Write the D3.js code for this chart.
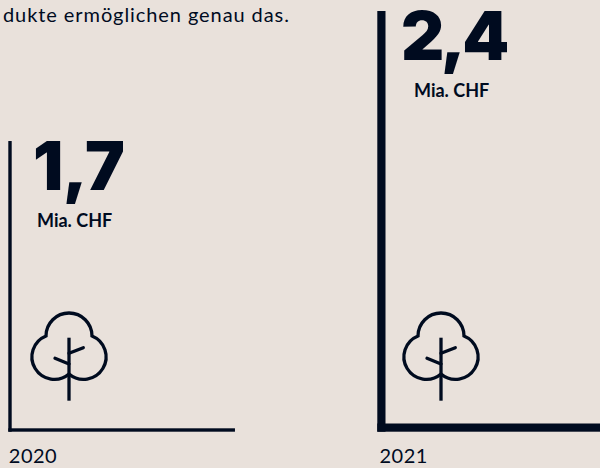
<!DOCTYPE html>
<html>
<head>
<meta charset="utf-8">
<script src="https://cdn.jsdelivr.net/npm/d3@7"></script>
<style>
  html, body { margin: 0; padding: 0; background: #e9e1db; overflow: hidden; }
  svg { display: block; }
  text { fill: #000b1f; }
</style>
</head>
<body>
<div id="chart"></div>
<script>
// values
const years = ['2020', '2021'];
const values = [1.7, 2.4];
const valueLabels = ['1,7', '2,4'];
const unit = 'Mia. CHF';
const intro = 'dukte ermöglichen genau das.';

const width = 600, height = 468;
const color = '#000b1f';
const baseline = 431.7;

const svg = d3.select('#chart').append('svg')
  .attr('width', width)
  .attr('height', height);

// position scales, one per column of things
const x = d3.scalePoint().domain(years).range([8.3, 377.3]);
const xNumber = d3.scalePoint().domain(years).range([33, 401]);
const xUnit = d3.scalePoint().domain(years).range([37, 414]);
const xYear = d3.scalePoint().domain(years).range([8.8, 379.5]);
const xTree = d3.scalePoint().domain(years).range([69, 441]);

const y = d3.scaleLinear().domain([0.135, 2.4]).range([baseline, 11]);
const w = d3.scaleLinear().domain([0, 2.4]).range([0, 320]);
const stroke = d3.scaleLinear().domain([1.7, 2.4]).range([3.4, 8.2]);
const numberSpacing = d3.scaleLinear().domain([1.7, 2.4]).range([-0.5, -3.5]);

svg.append('text')
  .attr('x', 3)
  .attr('y', 21.5)
  .attr('font-family', 'Lato')
  .attr('font-size', 20)
  .attr('letter-spacing', 0.92)
  .text(intro);

const data = years.map((year, i) => ({ year, value: values[i], label: valueLabels[i] }));

// the L shaped mark: height, width and stroke all follow the value
svg.selectAll('.stem')
  .data(data)
  .join('rect')
  .attr('class', 'stem')
  .attr('x', d => x(d.year))
  .attr('y', d => y(d.value))
  .attr('width', d => stroke(d.value))
  .attr('height', d => baseline - y(d.value))
  .attr('fill', color);

svg.selectAll('.foot')
  .data(data)
  .join('rect')
  .attr('class', 'foot')
  .attr('x', d => x(d.year))
  .attr('y', d => baseline - stroke(d.value))
  .attr('width', d => w(d.value))
  .attr('height', d => stroke(d.value))
  .attr('fill', color);

svg.selectAll('.number')
  .data(data)
  .join('text')
  .attr('class', 'number')
  .attr('x', d => xNumber(d.year))
  .attr('y', d => y(d.value) + 48.8)
  .attr('font-family', 'Inter')
  .attr('font-weight', 900)
  .attr('font-size', 67)
  .attr('letter-spacing', d => numberSpacing(d.value))
  .text(d => d.label);

svg.selectAll('.unit')
  .data(data)
  .join('text')
  .attr('class', 'unit')
  .attr('x', d => xUnit(d.year))
  .attr('y', d => y(d.value) + 86)
  .attr('font-family', 'Lato')
  .attr('font-weight', 700)
  .attr('font-size', 18)
  .text(unit);

svg.selectAll('.year')
  .data(data)
  .join('text')
  .attr('class', 'year')
  .attr('x', d => xYear(d.year))
  .attr('y', 463)
  .attr('font-family', 'Lato')
  .attr('font-size', 20)
  .attr('letter-spacing', 0.5)
  .text(d => d.year);

// tree icon
const tree = svg.selectAll('.tree')
  .data(data)
  .join('g')
  .attr('class', 'tree')
  .attr('transform', d => `translate(${xTree(d.year)},300)`)
  .attr('fill', 'none')
  .attr('stroke', color)
  .attr('stroke-width', 3.3);

tree.append('path')
  .attr('d', 'M0,74 A22.5,22.5 0 1 1 -23,36 A23,23 0 0 1 23,36 A22.5,22.5 0 1 1 0,74');
tree.append('path')
  .attr('d', 'M0,37.7 V100.7');
tree.append('path')
  .attr('stroke-linecap', 'round')
  .attr('d', 'M0,53.3 L14.3,47.7 M0,64 L-14,58.3');
</script>
</body>
</html>
